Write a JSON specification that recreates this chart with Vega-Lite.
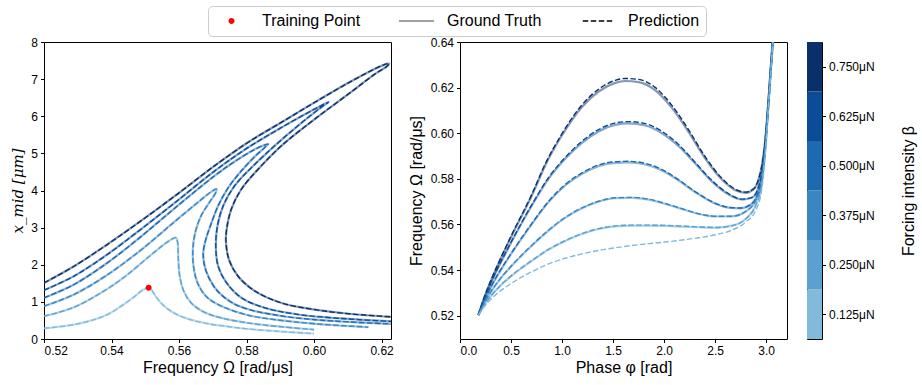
{
  "$schema": "https://vega.github.io/schema/vega-lite/v6.json",
  "padding": {"left": 10, "top": 5, "right": 4, "bottom": 3},
  "background": "white",
  "config": {
    "font": "Liberation Sans",
    "view": {"stroke": "#000000", "strokeWidth": 1},
    "axis": {"grid": false, "domain": false, "labelOverlap": false, "tickColor": "#000000", "tickSize": 3.5, "tickWidth": 1, "labelFont": "Liberation Sans", "labelFontSize": 12, "labelColor": "#000000", "labelPadding": 3, "titleFont": "Liberation Sans", "titleFontSize": 16, "titleFontWeight": "normal", "titleColor": "#000000"},
    "axisX": {"titlePadding": 3},
    "axisY": {"titlePadding": 5}
  },
  "datasets": {
    "fr": [
      {"b":0.125,"w":0.5200,"a":0.288},{"b":0.125,"w":0.5289,"a":0.387},{"b":0.125,"w":0.5349,"a":0.523},{"b":0.125,"w":0.5388,"a":0.658},{"b":0.125,"w":0.5428,"a":0.883},{"b":0.125,"w":0.5467,"a":1.135},{"b":0.125,"w":0.5492,"a":1.315},{"b":0.125,"w":0.5510,"a":1.378},{"b":0.125,"w":0.5519,"a":1.315},{"b":0.125,"w":0.5532,"a":1.135},{"b":0.125,"w":0.5551,"a":0.928},{"b":0.125,"w":0.5581,"a":0.721},{"b":0.125,"w":0.5626,"a":0.541},{"b":0.125,"w":0.5685,"a":0.414},{"b":0.125,"w":0.5750,"a":0.330},{"b":0.125,"w":0.5805,"a":0.270},{"b":0.125,"w":0.5904,"a":0.200},{"b":0.125,"w":0.6000,"a":0.145},
      {"b":0.25,"w":0.5200,"a":0.613},{"b":0.25,"w":0.5289,"a":0.856},{"b":0.25,"w":0.5388,"a":1.351},{"b":0.25,"w":0.5448,"a":1.739},{"b":0.25,"w":0.5507,"a":2.189},{"b":0.25,"w":0.5556,"a":2.550},{"b":0.25,"w":0.5581,"a":2.700},{"b":0.25,"w":0.5591,"a":2.730},{"b":0.25,"w":0.5596,"a":2.600},{"b":0.25,"w":0.5598,"a":2.150},{"b":0.25,"w":0.5602,"a":1.700},{"b":0.25,"w":0.5614,"a":1.290},{"b":0.25,"w":0.5636,"a":0.973},{"b":0.25,"w":0.5675,"a":0.721},{"b":0.25,"w":0.5725,"a":0.568},{"b":0.25,"w":0.5805,"a":0.430},{"b":0.25,"w":0.5904,"a":0.330},{"b":0.25,"w":0.6000,"a":0.252},
      {"b":0.375,"w":0.5200,"a":0.883},{"b":0.375,"w":0.5289,"a":1.198},{"b":0.375,"w":0.5388,"a":1.730},{"b":0.375,"w":0.5487,"a":2.396},{"b":0.375,"w":0.5586,"a":3.153},{"b":0.375,"w":0.5655,"a":3.676},{"b":0.375,"w":0.5695,"a":3.964},{"b":0.375,"w":0.5711,"a":4.040},{"b":0.375,"w":0.5708,"a":3.930},{"b":0.375,"w":0.5690,"a":3.680},{"b":0.375,"w":0.5665,"a":3.310},{"b":0.375,"w":0.5648,"a":2.870},{"b":0.375,"w":0.5641,"a":2.410},{"b":0.375,"w":0.5643,"a":1.960},{"b":0.375,"w":0.5655,"a":1.510},{"b":0.375,"w":0.5680,"a":1.150},{"b":0.375,"w":0.5715,"a":0.930},{"b":0.375,"w":0.5805,"a":0.640},{"b":0.375,"w":0.5904,"a":0.500},{"b":0.375,"w":0.6003,"a":0.410},{"b":0.375,"w":0.6161,"a":0.320},
      {"b":0.5,"w":0.5200,"a":1.108},{"b":0.5,"w":0.5289,"a":1.468},{"b":0.5,"w":0.5388,"a":2.054},{"b":0.5,"w":0.5487,"a":2.757},{"b":0.5,"w":0.5586,"a":3.514},{"b":0.5,"w":0.5706,"a":4.400},{"b":0.5,"w":0.5765,"a":4.780},{"b":0.5,"w":0.5825,"a":5.110},{"b":0.5,"w":0.5855,"a":5.230},{"b":0.5,"w":0.5864,"a":5.250},{"b":0.5,"w":0.5852,"a":5.140},{"b":0.5,"w":0.5825,"a":4.920},{"b":0.5,"w":0.5785,"a":4.530},{"b":0.5,"w":0.5746,"a":4.080},{"b":0.5,"w":0.5716,"a":3.590},{"b":0.5,"w":0.5695,"a":3.100},{"b":0.5,"w":0.5680,"a":2.700},{"b":0.5,"w":0.5672,"a":2.350},{"b":0.5,"w":0.5675,"a":2.000},{"b":0.5,"w":0.5690,"a":1.620},{"b":0.5,"w":0.5716,"a":1.270},{"b":0.5,"w":0.5755,"a":0.990},{"b":0.5,"w":0.5805,"a":0.800},{"b":0.5,"w":0.5904,"a":0.620},{"b":0.5,"w":0.6003,"a":0.520},{"b":0.5,"w":0.6102,"a":0.460},{"b":0.5,"w":0.6240,"a":0.400},
      {"b":0.625,"w":0.5200,"a":1.315},{"b":0.625,"w":0.5289,"a":1.694},{"b":0.625,"w":0.5388,"a":2.279},{"b":0.625,"w":0.5487,"a":2.955},{"b":0.625,"w":0.5586,"a":3.658},{"b":0.625,"w":0.5706,"a":4.530},{"b":0.625,"w":0.5805,"a":5.160},{"b":0.625,"w":0.5904,"a":5.700},{"b":0.625,"w":0.6003,"a":6.200},{"b":0.625,"w":0.6030,"a":6.330},{"b":0.625,"w":0.6043,"a":6.380},{"b":0.625,"w":0.6021,"a":6.240},{"b":0.625,"w":0.5953,"a":5.750},{"b":0.625,"w":0.5884,"a":5.210},{"b":0.625,"w":0.5815,"a":4.620},{"b":0.625,"w":0.5765,"a":4.130},{"b":0.625,"w":0.5731,"a":3.590},{"b":0.625,"w":0.5714,"a":3.050},{"b":0.625,"w":0.5709,"a":2.500},{"b":0.625,"w":0.5716,"a":1.960},{"b":0.625,"w":0.5741,"a":1.510},{"b":0.625,"w":0.5785,"a":1.110},{"b":0.625,"w":0.5854,"a":0.840},{"b":0.625,"w":0.5953,"a":0.660},{"b":0.625,"w":0.6102,"a":0.540},{"b":0.625,"w":0.6240,"a":0.470},
      {"b":0.75,"w":0.5200,"a":1.510},{"b":0.75,"w":0.5289,"a":1.960},{"b":0.75,"w":0.5388,"a":2.550},{"b":0.75,"w":0.5487,"a":3.180},{"b":0.75,"w":0.5586,"a":3.840},{"b":0.75,"w":0.5706,"a":4.670},{"b":0.75,"w":0.5805,"a":5.300},{"b":0.75,"w":0.5904,"a":5.840},{"b":0.75,"w":0.6003,"a":6.380},{"b":0.75,"w":0.6102,"a":6.900},{"b":0.75,"w":0.6181,"a":7.280},{"b":0.75,"w":0.6215,"a":7.410},{"b":0.75,"w":0.6222,"a":7.420},{"b":0.75,"w":0.6218,"a":7.360},{"b":0.75,"w":0.6181,"a":7.140},{"b":0.75,"w":0.6102,"a":6.600},{"b":0.75,"w":0.6003,"a":5.930},{"b":0.75,"w":0.5904,"a":5.210},{"b":0.75,"w":0.5835,"a":4.580},{"b":0.75,"w":0.5785,"a":4.040},{"b":0.75,"w":0.5755,"a":3.500},{"b":0.75,"w":0.5741,"a":2.950},{"b":0.75,"w":0.5739,"a":2.620},{"b":0.75,"w":0.5748,"a":2.140},{"b":0.75,"w":0.5775,"a":1.690},{"b":0.75,"w":0.5825,"a":1.290},{"b":0.75,"w":0.5904,"a":0.970},{"b":0.75,"w":0.6003,"a":0.790},{"b":0.75,"w":0.6102,"a":0.680},{"b":0.75,"w":0.6240,"a":0.590}
    ],
    "ph": [
      {"b":0.75,"p":0.180,"g":0.5203,"q":0.5203},{"b":0.75,"p":0.245,"g":0.5288,"q":0.5290},{"b":0.75,"p":0.311,"g":0.5361,"q":0.5364},{"b":0.75,"p":0.376,"g":0.5427,"q":0.5430},{"b":0.75,"p":0.507,"g":0.5551,"q":0.5555},{"b":0.75,"p":0.704,"g":0.5727,"q":0.5732},{"b":0.75,"p":0.835,"g":0.5859,"q":0.5865},{"b":0.75,"p":0.998,"g":0.5990,"q":0.5997},{"b":0.75,"p":1.195,"g":0.6115,"q":0.6124},{"b":0.75,"p":1.358,"g":0.6183,"q":0.6193},{"b":0.75,"p":1.522,"g":0.6221,"q":0.6232},{"b":0.75,"p":1.620,"g":0.6229,"q":0.6240},{"b":0.75,"p":1.751,"g":0.6224,"q":0.6236},{"b":0.75,"p":1.915,"g":0.6188,"q":0.6200},{"b":0.75,"p":2.079,"g":0.6110,"q":0.6121},{"b":0.75,"p":2.242,"g":0.6005,"q":0.6014},{"b":0.75,"p":2.406,"g":0.5888,"q":0.5895},{"b":0.75,"p":2.570,"g":0.5796,"q":0.5801},{"b":0.75,"p":2.700,"g":0.5750,"q":0.5754},{"b":0.75,"p":2.799,"g":0.5739,"q":0.5742},{"b":0.75,"p":2.881,"g":0.5756,"q":0.5758},{"b":0.75,"p":2.930,"g":0.5803,"q":0.5804},{"b":0.75,"p":2.962,"g":0.5866,"q":0.5866},{"b":0.75,"p":2.995,"g":0.5983,"q":0.5983},{"b":0.75,"p":3.021,"g":0.6129,"q":0.6129},{"b":0.75,"p":3.044,"g":0.6276,"q":0.6276},{"b":0.75,"p":3.064,"g":0.6400,"q":0.6400},{"b":0.75,"p":3.080,"g":0.6520,"q":0.6520},
      {"b":0.625,"p":0.180,"g":0.5203,"q":0.5203},{"b":0.625,"p":0.245,"g":0.5280,"q":0.5281},{"b":0.625,"p":0.311,"g":0.5351,"q":0.5353},{"b":0.625,"p":0.376,"g":0.5412,"q":0.5414},{"b":0.625,"p":0.507,"g":0.5525,"q":0.5528},{"b":0.625,"p":0.704,"g":0.5683,"q":0.5687},{"b":0.625,"p":0.867,"g":0.5800,"q":0.5805},{"b":0.625,"p":1.031,"g":0.5888,"q":0.5894},{"b":0.625,"p":1.195,"g":0.5958,"q":0.5965},{"b":0.625,"p":1.358,"g":0.6008,"q":0.6016},{"b":0.625,"p":1.522,"g":0.6037,"q":0.6045},{"b":0.625,"p":1.653,"g":0.6043,"q":0.6051},{"b":0.625,"p":1.817,"g":0.6034,"q":0.6042},{"b":0.625,"p":1.980,"g":0.6000,"q":0.6008},{"b":0.625,"p":2.144,"g":0.5943,"q":0.5950},{"b":0.625,"p":2.308,"g":0.5866,"q":0.5871},{"b":0.625,"p":2.471,"g":0.5788,"q":0.5792},{"b":0.625,"p":2.635,"g":0.5731,"q":0.5734},{"b":0.625,"p":2.766,"g":0.5709,"q":0.5711},{"b":0.625,"p":2.864,"g":0.5718,"q":0.5719},{"b":0.625,"p":2.930,"g":0.5771,"q":0.5771},{"b":0.625,"p":2.969,"g":0.5859,"q":0.5859},{"b":0.625,"p":2.995,"g":0.5976,"q":0.5976},{"b":0.625,"p":3.021,"g":0.6125,"q":0.6125},{"b":0.625,"p":3.044,"g":0.6272,"q":0.6272},{"b":0.625,"p":3.064,"g":0.6400,"q":0.6400},{"b":0.625,"p":3.080,"g":0.6520,"q":0.6520},
      {"b":0.5,"p":0.180,"g":0.5203,"q":0.5203},{"b":0.5,"p":0.245,"g":0.5270,"q":0.5271},{"b":0.5,"p":0.311,"g":0.5332,"q":0.5333},{"b":0.5,"p":0.376,"g":0.5383,"q":0.5385},{"b":0.5,"p":0.507,"g":0.5475,"q":0.5477},{"b":0.5,"p":0.704,"g":0.5602,"q":0.5605},{"b":0.5,"p":0.867,"g":0.5698,"q":0.5701},{"b":0.5,"p":1.031,"g":0.5771,"q":0.5775},{"b":0.5,"p":1.195,"g":0.5822,"q":0.5826},{"b":0.5,"p":1.358,"g":0.5856,"q":0.5861},{"b":0.5,"p":1.522,"g":0.5870,"q":0.5875},{"b":0.5,"p":1.653,"g":0.5872,"q":0.5877},{"b":0.5,"p":1.817,"g":0.5863,"q":0.5868},{"b":0.5,"p":1.980,"g":0.5837,"q":0.5841},{"b":0.5,"p":2.144,"g":0.5793,"q":0.5796},{"b":0.5,"p":2.308,"g":0.5741,"q":0.5743},{"b":0.5,"p":2.471,"g":0.5698,"q":0.5700},{"b":0.5,"p":2.635,"g":0.5674,"q":0.5675},{"b":0.5,"p":2.750,"g":0.5671,"q":0.5672},{"b":0.5,"p":2.848,"g":0.5687,"q":0.5687},{"b":0.5,"p":2.923,"g":0.5741,"q":0.5741},{"b":0.5,"p":2.969,"g":0.5844,"q":0.5844},{"b":0.5,"p":2.995,"g":0.5968,"q":0.5968},{"b":0.5,"p":3.021,"g":0.6120,"q":0.6120},{"b":0.5,"p":3.044,"g":0.6268,"q":0.6268},{"b":0.5,"p":3.064,"g":0.6395,"q":0.6395},{"b":0.5,"p":3.080,"g":0.6515,"q":0.6515},
      {"b":0.375,"p":0.180,"g":0.5203,"q":0.5203},{"b":0.375,"p":0.245,"g":0.5261,"q":0.5261},{"b":0.375,"p":0.311,"g":0.5310,"q":0.5311},{"b":0.375,"p":0.376,"g":0.5351,"q":0.5352},{"b":0.375,"p":0.507,"g":0.5419,"q":0.5420},{"b":0.375,"p":0.704,"g":0.5507,"q":0.5509},{"b":0.375,"p":0.867,"g":0.5573,"q":0.5575},{"b":0.375,"p":1.031,"g":0.5629,"q":0.5631},{"b":0.375,"p":1.195,"g":0.5671,"q":0.5673},{"b":0.375,"p":1.358,"g":0.5700,"q":0.5702},{"b":0.375,"p":1.522,"g":0.5715,"q":0.5717},{"b":0.375,"p":1.686,"g":0.5717,"q":0.5719},{"b":0.375,"p":1.849,"g":0.5709,"q":0.5711},{"b":0.375,"p":2.013,"g":0.5690,"q":0.5692},{"b":0.375,"p":2.177,"g":0.5668,"q":0.5669},{"b":0.375,"p":2.340,"g":0.5646,"q":0.5647},{"b":0.375,"p":2.504,"g":0.5635,"q":0.5636},{"b":0.375,"p":2.668,"g":0.5636,"q":0.5636},{"b":0.375,"p":2.799,"g":0.5657,"q":0.5657},{"b":0.375,"p":2.897,"g":0.5705,"q":0.5705},{"b":0.375,"p":2.956,"g":0.5785,"q":0.5785},{"b":0.375,"p":2.989,"g":0.5917,"q":0.5917},{"b":0.375,"p":3.021,"g":0.6115,"q":0.6115},{"b":0.375,"p":3.044,"g":0.6264,"q":0.6264},{"b":0.375,"p":3.064,"g":0.6392,"q":0.6392},{"b":0.375,"p":3.080,"g":0.6512,"q":0.6512},
      {"b":0.25,"p":0.180,"g":0.5203,"q":0.5203},{"b":0.25,"p":0.245,"g":0.5251,"q":0.5251},{"b":0.25,"p":0.311,"g":0.5291,"q":0.5291},{"b":0.25,"p":0.376,"g":0.5323,"q":0.5323},{"b":0.25,"p":0.507,"g":0.5376,"q":0.5377},{"b":0.25,"p":0.704,"g":0.5441,"q":0.5442},{"b":0.25,"p":0.867,"g":0.5490,"q":0.5491},{"b":0.25,"p":1.031,"g":0.5528,"q":0.5529},{"b":0.25,"p":1.195,"g":0.5558,"q":0.5560},{"b":0.25,"p":1.358,"g":0.5580,"q":0.5582},{"b":0.25,"p":1.522,"g":0.5592,"q":0.5594},{"b":0.25,"p":1.686,"g":0.5595,"q":0.5597},{"b":0.25,"p":1.849,"g":0.5595,"q":0.5597},{"b":0.25,"p":2.013,"g":0.5594,"q":0.5596},{"b":0.25,"p":2.177,"g":0.5591,"q":0.5593},{"b":0.25,"p":2.340,"g":0.5588,"q":0.5589},{"b":0.25,"p":2.504,"g":0.5586,"q":0.5587},{"b":0.25,"p":2.668,"g":0.5595,"q":0.5595},{"b":0.25,"p":2.799,"g":0.5624,"q":0.5624},{"b":0.25,"p":2.897,"g":0.5683,"q":0.5683},{"b":0.25,"p":2.956,"g":0.5771,"q":0.5771},{"b":0.25,"p":2.989,"g":0.5910,"q":0.5910},{"b":0.25,"p":3.021,"g":0.6110,"q":0.6110},{"b":0.25,"p":3.044,"g":0.6260,"q":0.6260},{"b":0.25,"p":3.064,"g":0.6388,"q":0.6388},{"b":0.25,"p":3.080,"g":0.6508,"q":0.6508},
      {"b":0.125,"p":0.180,"g":null,"q":0.5203},{"b":0.125,"p":0.245,"g":null,"q":0.5244},{"b":0.125,"p":0.311,"g":null,"q":0.5276},{"b":0.125,"p":0.376,"g":null,"q":0.5302},{"b":0.125,"p":0.507,"g":null,"q":0.5343},{"b":0.125,"p":0.704,"g":null,"q":0.5393},{"b":0.125,"p":0.867,"g":null,"q":0.5427},{"b":0.125,"p":1.031,"g":null,"q":0.5452},{"b":0.125,"p":1.195,"g":null,"q":0.5471},{"b":0.125,"p":1.358,"g":null,"q":0.5486},{"b":0.125,"p":1.522,"g":null,"q":0.5498},{"b":0.125,"p":1.686,"g":null,"q":0.5508},{"b":0.125,"p":1.849,"g":null,"q":0.5516},{"b":0.125,"p":2.013,"g":null,"q":0.5523},{"b":0.125,"p":2.177,"g":null,"q":0.5532},{"b":0.125,"p":2.340,"g":null,"q":0.5542},{"b":0.125,"p":2.504,"g":null,"q":0.5555},{"b":0.125,"p":2.668,"g":null,"q":0.5576},{"b":0.125,"p":2.799,"g":null,"q":0.5610},{"b":0.125,"p":2.897,"g":null,"q":0.5661},{"b":0.125,"p":2.956,"g":null,"q":0.5749},{"b":0.125,"p":2.989,"g":null,"q":0.5895},{"b":0.125,"p":3.021,"g":null,"q":0.6105},{"b":0.125,"p":3.044,"g":null,"q":0.6256},{"b":0.125,"p":3.064,"g":null,"q":0.6384},{"b":0.125,"p":3.080,"g":null,"q":0.6504}
    ],
    "tp": [{"w": 0.551, "a": 1.378, "kind": "Training Point"}],
    "cb": [
      {"b":0.125,"lo":0.0625,"hi":0.1875},{"b":0.25,"lo":0.1875,"hi":0.3125},{"b":0.375,"lo":0.3125,"hi":0.4375},{"b":0.5,"lo":0.4375,"hi":0.5625},{"b":0.625,"lo":0.5625,"hi":0.6875},{"b":0.75,"lo":0.6875,"hi":0.8125}
    ]
  },
  "spacing": 18,
  "hconcat": [
    {
      "spacing": 13,
      "hconcat": [
        {
          "width": 347,
          "height": 297,
          "layer": [
            {
              "data": {"name": "fr"},
              "mark": {"type": "line", "interpolate": "catmull-rom", "strokeWidth": 2.2, "opacity": 0.5, "clip": true},
              "encoding": {
                "x": {"field": "w", "type": "quantitative", "scale": {"domain": [0.52, 0.6228], "nice": false, "zero": false}, "axis": {"values": [0.52, 0.54, 0.56, 0.58, 0.60, 0.62], "format": ".2f", "title": "Frequency Ω [rad/μs]"}},
                "y": {"field": "a", "type": "quantitative", "scale": {"domain": [0, 8], "nice": false}, "axis": {"values": [0, 1, 2, 3, 4, 5, 6, 7, 8], "tickCount": 9, "labelOverlap": false, "format": "d", "title": "x_mid [μm]", "titleFont": "DejaVu Serif", "titleFontStyle": "italic", "titleFontSize": 15}},
                "stroke": {"field": "b", "type": "ordinal", "scale": {"domain": [0.125, 0.25, 0.375, 0.5, 0.625, 0.75], "range": ["#82badb", "#5aa0d0", "#3a86c1", "#1e6ab0", "#0a4c98", "#09306b"]}, "legend": null},
                "order": {"value": null}
              }
            },
            {
              "data": {"name": "fr"},
              "mark": {"type": "line", "interpolate": "catmull-rom", "strokeWidth": 1.4, "strokeDash": [5.5, 2.4], "clip": true},
              "encoding": {
                "x": {"field": "w", "type": "quantitative"},
                "y": {"field": "a", "type": "quantitative"},
                "stroke": {"field": "b", "type": "ordinal", "scale": {"domain": [0.125, 0.25, 0.375, 0.5, 0.625, 0.75], "range": ["#82badb", "#5aa0d0", "#3a86c1", "#1e6ab0", "#0a4c98", "#09306b"]}, "legend": null},
                "order": {"value": null}
              }
            },
            {
              "data": {"name": "tp"},
              "mark": {"type": "point", "filled": true, "size": 1225, "opacity": 1, "strokeWidth": 0},
              "encoding": {
                "x": {"field": "w", "type": "quantitative"},
                "y": {"field": "a", "type": "quantitative"},
                "color": {
                  "field": "kind", "type": "nominal",
                  "scale": {"domain": ["Training Point", "Ground Truth", "Prediction"], "range": ["#ff0000", "#808080", "#000000"]},
                  "legend": {"title": null, "orient": "none", "direction": "horizontal", "legendX": 164, "legendY": -36, "padding": 6, "fillColor": "#ffffff", "strokeColor": "#cccccc", "cornerRadius": 4, "labelFont": "Liberation Sans", "labelFontSize": 16, "labelColor": "#000000", "labelOffset": 13, "columnPadding": 38, "symbolSize": 1225, "clipHeight": 18, "symbolStrokeWidth": 0, "symbolOpacity": 1}
                },
                "shape": {
                  "field": "kind", "type": "nominal",
                  "scale": {"domain": ["Training Point", "Ground Truth", "Prediction"], "range": ["M-0.17,0A0.17,0.17,0,1,0,0.17,0A0.17,0.17,0,1,0,-0.17,0Z", "M-1,-0.046H1V0.046H-1Z", "M-0.843,-0.04H-0.529V0.04H-0.843Z M-0.386,-0.04H-0.072V0.04H-0.386Z M0.071,-0.04H0.385V0.04H0.071Z M0.528,-0.04H0.842V0.04H0.528Z"]},
                  "legend": {"title": null, "orient": "none", "direction": "horizontal", "legendX": 164, "legendY": -36, "padding": 6, "fillColor": "#ffffff", "strokeColor": "#cccccc", "cornerRadius": 4, "labelFont": "Liberation Sans", "labelFontSize": 16, "labelColor": "#000000", "labelOffset": 13, "columnPadding": 38, "symbolSize": 1225, "clipHeight": 18, "symbolStrokeWidth": 0, "symbolOpacity": 1}
                }
              }
            }
          ]
        },
        {
          "width": 327,
          "height": 297,
          "data": {"name": "ph"},
          "layer": [
            {
              "transform": [{"filter": "datum.g != null"}],
              "mark": {"type": "line", "interpolate": "monotone", "strokeWidth": 2.2, "opacity": 0.5, "clip": true},
              "encoding": {
                "x": {"field": "p", "type": "quantitative", "scale": {"domain": [0, 3.205], "nice": false, "zero": false}, "axis": {"values": [0, 0.5, 1, 1.5, 2, 2.5, 3], "format": ".1f", "title": "Phase φ [rad]"}},
                "y": {"field": "g", "type": "quantitative", "scale": {"domain": [0.5098, 0.64], "nice": false, "zero": false}, "axis": {"values": [0.52, 0.54, 0.56, 0.58, 0.60, 0.62, 0.64], "format": ".2f", "title": "Frequency Ω [rad/μs]", "titlePadding": 6}},
                "stroke": {"field": "b", "type": "ordinal", "scale": {"domain": [0.125, 0.25, 0.375, 0.5, 0.625, 0.75], "range": ["#82badb", "#5aa0d0", "#3a86c1", "#1e6ab0", "#0a4c98", "#09306b"]}, "legend": null}
              }
            },
            {
              "mark": {"type": "line", "interpolate": "monotone", "strokeWidth": 1.4, "strokeDash": [5.5, 2.4], "clip": true},
              "encoding": {
                "x": {"field": "p", "type": "quantitative"},
                "y": {"field": "q", "type": "quantitative"},
                "stroke": {"field": "b", "type": "ordinal", "scale": {"domain": [0.125, 0.25, 0.375, 0.5, 0.625, 0.75], "range": ["#82badb", "#5aa0d0", "#3a86c1", "#1e6ab0", "#0a4c98", "#09306b"]}, "legend": null}
              }
            }
          ]
        }
      ]
    },
    {
      "width": 15,
      "height": 297,
      "data": {"name": "cb"},
      "mark": {"type": "rect"},
      "encoding": {
        "x": {"datum": "c", "type": "nominal", "scale": {"paddingInner": 0, "paddingOuter": 0}, "axis": null},
        "y": {"field": "lo", "type": "quantitative", "scale": {"domain": [0.0625, 0.8125], "nice": false, "zero": false}, "axis": {"orient": "right", "values": [0.125, 0.25, 0.375, 0.5, 0.625, 0.75], "labelExpr": "format(datum.value, '.3f') + 'μN'", "title": "Forcing intensity β", "titleAngle": 270, "titleBaseline": "top", "titlePadding": 26}},
        "y2": {"field": "hi"},
        "fill": {"field": "b", "type": "ordinal", "scale": {"domain": [0.125, 0.25, 0.375, 0.5, 0.625, 0.75], "range": ["#82badb", "#5aa0d0", "#3a86c1", "#1e6ab0", "#0a4c98", "#09306b"]}, "legend": null}
      }
    }
  ]
}
